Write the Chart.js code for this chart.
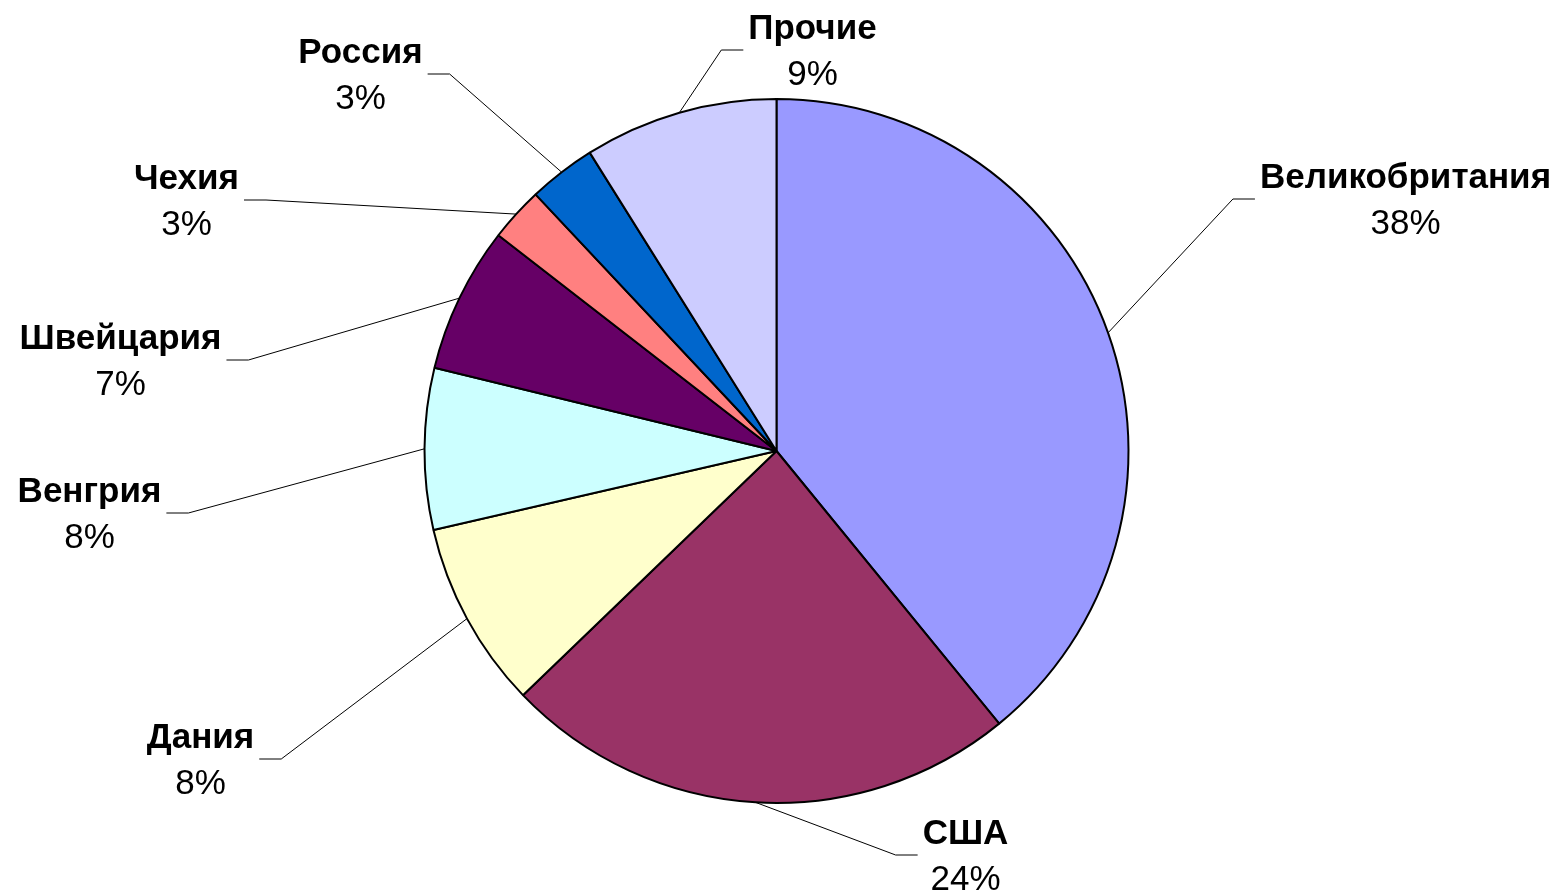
<!DOCTYPE html>
<html lang="ru">
<head>
<meta charset="utf-8">
<title>Pie chart</title>
<script src="https://cdn.jsdelivr.net/npm/chart.js@4"></script>
<style>
  html, body { margin: 0; padding: 0; background: #fff; }
  canvas { display: block; }
</style>
</head>
<body>
<canvas id="chart" width="1559" height="893"></canvas>
<script>
// Data
const countries = ["Великобритания", "США", "Дания", "Венгрия", "Швейцария", "Чехия", "Россия", "Прочие"];
const shares = [39.1, 23.7, 8.6, 7.4, 6.7, 2.5, 3.1, 8.9];
const shareLabels = ["38%", "24%", "8%", "8%", "7%", "3%", "3%", "9%"];
const colors = ["#9999FF", "#993366", "#FFFFCC", "#CCFFFF", "#660066", "#FF8080", "#0066CC", "#CCCCFF"];

// Label placement: offset of the name line centre from the pie centre, px
const labelOffsets = [
  [629, -273], [189, 383], [-576, 287], [-687, 41],
  [-656, -112], [-590, -272], [-416, -398], [36, -422]
];

const FONT = '"Liberation Sans", Arial, sans-serif';

// Draw labels with leader lines, like Excel does
const sliceLabels = {
  id: "sliceLabels",
  afterDatasetsDraw(chart) {
    const ctx = chart.ctx;
    const meta = chart.getDatasetMeta(0);
    ctx.save();
    meta.data.forEach((arc, i) => {
      const { x, y, startAngle, endAngle, outerRadius } =
        arc.getProps(["x", "y", "startAngle", "endAngle", "outerRadius"], true);
      const mid = (startAngle + endAngle) / 2;
      const px = x + Math.cos(mid) * outerRadius;
      const py = y + Math.sin(mid) * outerRadius;

      const lx = x + labelOffsets[i][0];
      const ly = y + labelOffsets[i][1];

      ctx.font = "bold 35px " + FONT;
      const w = ctx.measureText(countries[i]).width;
      const onRight = lx > x;
      const hy = ly + 21;
      const near = onRight ? lx - w / 2 - 5 : lx + w / 2 + 5;
      const elbow = onRight ? near - 22 : near + 22;

      // leader line
      ctx.strokeStyle = "#000";
      ctx.lineWidth = 1;
      ctx.beginPath();
      ctx.moveTo(px, py);
      ctx.lineTo(elbow, hy);
      ctx.lineTo(near, hy);
      ctx.stroke();

      // texts
      ctx.fillStyle = "#000";
      ctx.textAlign = "center";
      ctx.textBaseline = "middle";
      ctx.fillText(countries[i], lx, ly);
      ctx.font = "35px " + FONT;
      ctx.fillText(shareLabels[i], lx, ly + 46);
    });
    ctx.restore();
  }
};

new Chart(document.getElementById("chart"), {
  type: "pie",
  data: {
    labels: countries,
    datasets: [
      {
        data: shares,
        backgroundColor: colors,
        borderColor: "#000",
        borderWidth: 2,
      },
    ],
  },
  options: {
    responsive: false,
    animation: false,
    radius: 352,
    layout: {
      padding: { top: 99, bottom: 90, left: 300, right: 306 },
    },
    plugins: {
      legend: { display: false },
      tooltip: { enabled: false },
    },
  },
  plugins: [sliceLabels],
});
</script>
</body>
</html>
